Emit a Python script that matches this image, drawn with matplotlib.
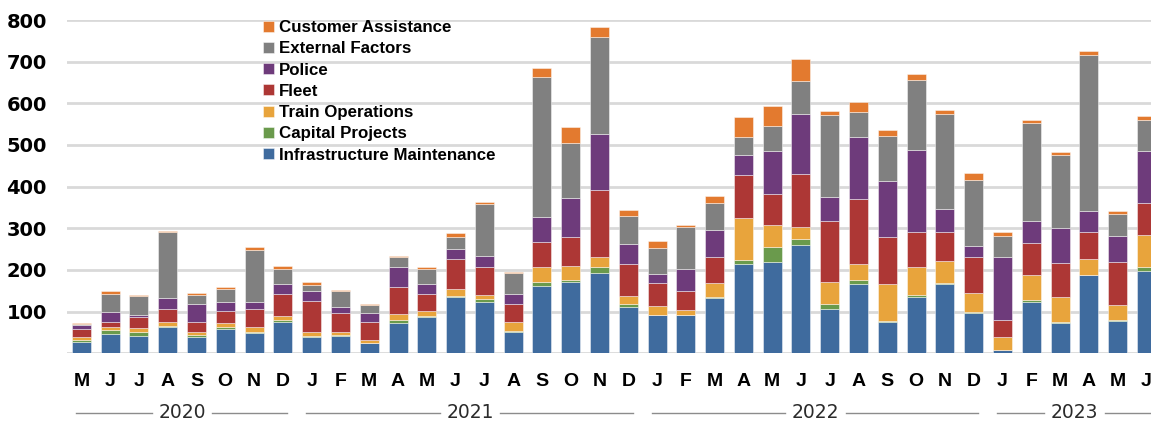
import matplotlib
matplotlib.use("Agg")
import matplotlib.pyplot as plt
from matplotlib.transforms import blended_transform_factory
import numpy as np

# Monthly delay incidents by responsible category, May 2020 – June 2023
months = ["M", "J", "J", "A", "S", "O", "N", "D",
          "J", "F", "M", "A", "M", "J", "J", "A", "S", "O", "N", "D",
          "J", "F", "M", "A", "M", "J", "J", "A", "S", "O", "N", "D",
          "J", "F", "M", "A", "M", "J"]
years = ["2020", "2021", "2022", "2023"]
year_counts = [8, 12, 12, 6]

infrastructure = [26, 46, 42, 64, 40, 58, 48, 76,
                  40, 42, 24, 72, 88, 136, 122, 50, 161, 172, 192, 112,
                  91, 91, 132, 214, 218, 261, 107, 166, 74, 136, 166, 97,
                  9, 122, 72, 187, 78, 198]
capital = [6, 11, 10, 2, 5, 4, 2, 5,
           1, 1, 1, 9, 1, 1, 9, 3, 9, 4, 16, 7,
           1, 1, 2, 11, 36, 13, 11, 10, 4, 4, 2, 1,
           0, 6, 3, 1, 1, 8]
train_ops = [6, 6, 9, 10, 5, 11, 12, 9,
             9, 9, 7, 13, 12, 17, 8, 21, 38, 34, 23, 19,
             22, 11, 35, 100, 53, 30, 52, 38, 88, 66, 54, 47,
             31, 60, 60, 38, 38, 78]
fleet = [20, 13, 26, 31, 24, 28, 44, 52,
         76, 45, 44, 64, 41, 72, 69, 44, 58, 69, 160, 76,
         55, 46, 61, 102, 75, 126, 148, 156, 112, 84, 68, 86,
         39, 76, 81, 64, 101, 76]
police = [9, 23, 5, 25, 44, 23, 16, 24,
          24, 15, 20, 50, 25, 24, 26, 25, 62, 93, 135, 49,
          22, 53, 65, 50, 104, 144, 57, 149, 136, 199, 56, 27,
          153, 53, 85, 52, 64, 126]
external = [3, 43, 45, 159, 22, 31, 127, 37,
            14, 37, 19, 22, 35, 28, 124, 49, 334, 132, 234, 67,
            61, 101, 65, 41, 59, 80, 196, 59, 108, 166, 228, 157,
            50, 235, 176, 375, 52, 73]
customer = [3, 8, 3, 3, 5, 5, 5, 7,
            8, 3, 4, 4, 6, 10, 5, 4, 22, 40, 24, 14,
            17, 4, 18, 50, 49, 52, 11, 26, 14, 15, 11, 18,
            8, 7, 5, 9, 7, 11]

series = [
    ("Infrastructure Maintenance", infrastructure, "#3f6b9e"),
    ("Capital Projects", capital, "#6a9a4c"),
    ("Train Operations", train_ops, "#e8a43c"),
    ("Fleet", fleet, "#ad3735"),
    ("Police", police, "#6e3b7b"),
    ("External Factors", external, "#808080"),
    ("Customer Assistance", customer, "#e37a2f"),
]

W, H = 1151, 422
fig = plt.figure(figsize=(W / 100, H / 100), dpi=100)
ax_left = 67 / W
ax_bottom = (H - 353.3) / H
ax_top = (H - 20) / H
ax = fig.add_axes([ax_left, ax_bottom, 1 - ax_left, ax_top - ax_bottom])

x = np.arange(len(months))
bottom = np.zeros(len(months))
handles = []
for name, vals, color in series:
    vals = np.array(vals, dtype=float)
    bars = ax.bar(x, vals, width=0.66, bottom=bottom, color=color,
                  edgecolor=(1, 1, 1, 0.45), linewidth=0.7, label=name, zorder=3)
    handles.append(bars)
    bottom += vals

ax.set_xlim(-0.5, (W - 81.5) / 28.78)
ax.set_ylim(0, 800)

ax.set_yticks(np.arange(0, 801, 100))
ax.set_yticklabels([""] + [str(v) for v in range(100, 801, 100)],
                   fontfamily="DejaVu Sans", fontweight="bold", fontsize=14)
ax.yaxis.grid(True, color="#d9d9d9", linewidth=2.0, zorder=0)
ax.set_axisbelow(True)
ax.tick_params(axis="y", length=0, pad=14.5)

ax.set_xticks(x)
ax.set_xticklabels(months, fontfamily="Liberation Sans", fontweight="bold", fontsize=14)
ax.tick_params(axis="x", length=0, pad=14)

for s in ax.spines.values():
    s.set_visible(False)

# Year group labels with rules on either side
trans = blended_transform_factory(ax.transData, ax.transAxes)
y_year = (353.3 - 413) / 333.3
start = 0
for yr, n in zip(years, year_counts):
    i0, i1 = start, start + n - 1
    lo, hi = i0 - 0.18, i1 + 0.15
    mid = (i0 + i1) / 2
    gap = 1.05
    ax.plot([lo, mid - gap], [y_year, y_year], transform=trans, color="#8c8c8c",
            linewidth=1.0, clip_on=False)
    ax.plot([mid + gap, hi], [y_year, y_year], transform=trans, color="#8c8c8c",
            linewidth=1.0, clip_on=False)
    ax.text(mid, y_year, yr, transform=trans, ha="center", va="center",
            fontsize=13.5, color="#2b2b2b", fontfamily="DejaVu Sans")
    start += n

leg = ax.legend(handles[::-1], [s[0] for s in series][::-1],
                loc="upper left", bbox_to_anchor=(263 / W, (H - 20) / H),
                bbox_transform=fig.transFigure, frameon=False,
                prop={"family": "Liberation Sans", "weight": "bold", "size": 12.2},
                handlelength=0.62, handleheight=0.62, handletextpad=0.3,
                labelspacing=0.37, borderpad=0, borderaxespad=0)

fig.savefig("out.png", dpi=100)
